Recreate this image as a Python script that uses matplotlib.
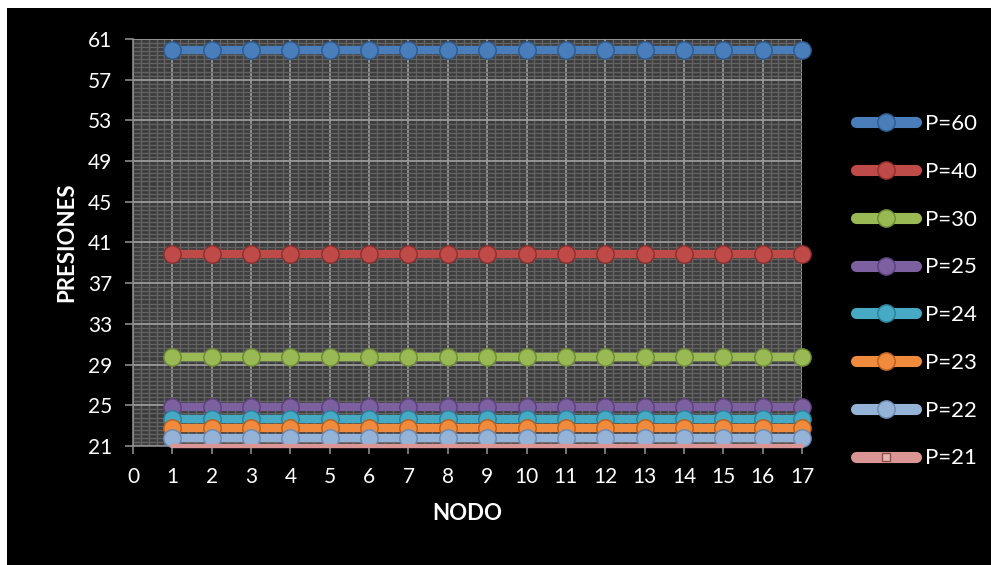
import matplotlib.pyplot as plt
import numpy as np
from matplotlib.lines import Line2D
from matplotlib.patches import Rectangle

plt.rcParams['font.family'] = ['Lato', 'DejaVu Sans']

# data
nodos = list(range(1, 18))
series_names = ['P=60', 'P=40', 'P=30', 'P=25', 'P=24', 'P=23', 'P=22', 'P=21']
series_levels = [59.9, 39.9, 29.7, 24.8, 23.7, 22.8, 21.8, 21.0]
colors = ['#4a7ebb', '#be4b48', '#98b954', '#7d60a0', '#46aac5', '#f08a3c', '#95b3d7', '#d99694']
edges = ['#2c5a8f', '#8c2f2d', '#6d8a35', '#59407a', '#2a7f96', '#b8601e', '#6a8ab3', '#b06c6a']
y_ticks = list(range(21, 62, 4))
x_ticks = list(range(0, 18))

fig = plt.figure(figsize=(9.91, 5.65), dpi=100, facecolor='white')
# black chart area with a thin white margin on top / left
fig.patches.append(Rectangle((7/991, 0), 1, 1 - 8/565, transform=fig.transFigure,
                             facecolor='black', edgecolor='none', zorder=-1))

ax = fig.add_axes([133/991, 1 - 446/565, (802 - 133)/991, (446 - 39)/565])
ax.set_facecolor('#3c3c3c')

ax.set_xlim(0, 17)
ax.set_ylim(21, 61)
ax.set_xticks(x_ticks)
ax.set_yticks(y_ticks)
ax.set_xticks(np.arange(0, 17.01, 0.2), minor=True)
ax.set_yticks(np.arange(21, 61.01, 0.4), minor=True)
ax.grid(which='minor', color='#626262', linewidth=1.0)
ax.grid(which='major', color='#9a9a9a', linewidth=1.3)
ax.set_axisbelow(True)
ax.tick_params(which='minor', length=0)
ax.tick_params(which='major', colors='#8a8a8a', length=6, width=1.2,
               labelcolor='white', labelsize=15, pad=9)
for s in ['top', 'right']:
    ax.spines[s].set_visible(False)
for s in ['left', 'bottom']:
    ax.spines[s].set_color('#8a8a8a')
    ax.spines[s].set_linewidth(1.2)

handles = []
for name, lvl, c, e in zip(series_names, series_levels, colors, edges):
    vals = [lvl] * len(nodos)
    if name == 'P=21':
        ax.plot(nodos, vals, color=c, lw=3.2, solid_capstyle='round', clip_on=False, zorder=3)
        handles.append(Line2D([], [], color=c, lw=8, solid_capstyle='round',
                              marker='s', markersize=6, markerfacecolor='#e8b4b2',
                              markeredgecolor='#8c4f4d'))
    else:
        ax.plot(nodos, vals, color=c, lw=6, marker='o', markersize=12.5,
                markerfacecolor=c, markeredgecolor=e, markeredgewidth=1,
                clip_on=False, zorder=3)
        handles.append(Line2D([], [], color=c, lw=8, solid_capstyle='round',
                              marker='o', markersize=12.5, markerfacecolor=c,
                              markeredgecolor=e))

ax.set_xlabel('NODO', color='white', fontsize=16, fontweight='bold', labelpad=12)
ax.set_ylabel('PRESIONES', color='white', fontsize=16, fontweight='bold', labelpad=8)

leg = fig.legend(handles, series_names, loc='upper left', bbox_to_anchor=(836/991, 1 - 94/565),
                 frameon=False, fontsize=16, labelcolor='white', handlelength=2.7,
                 handletextpad=0.4, labelspacing=1.25)

fig.savefig('out.png', dpi=100, facecolor=fig.get_facecolor())
